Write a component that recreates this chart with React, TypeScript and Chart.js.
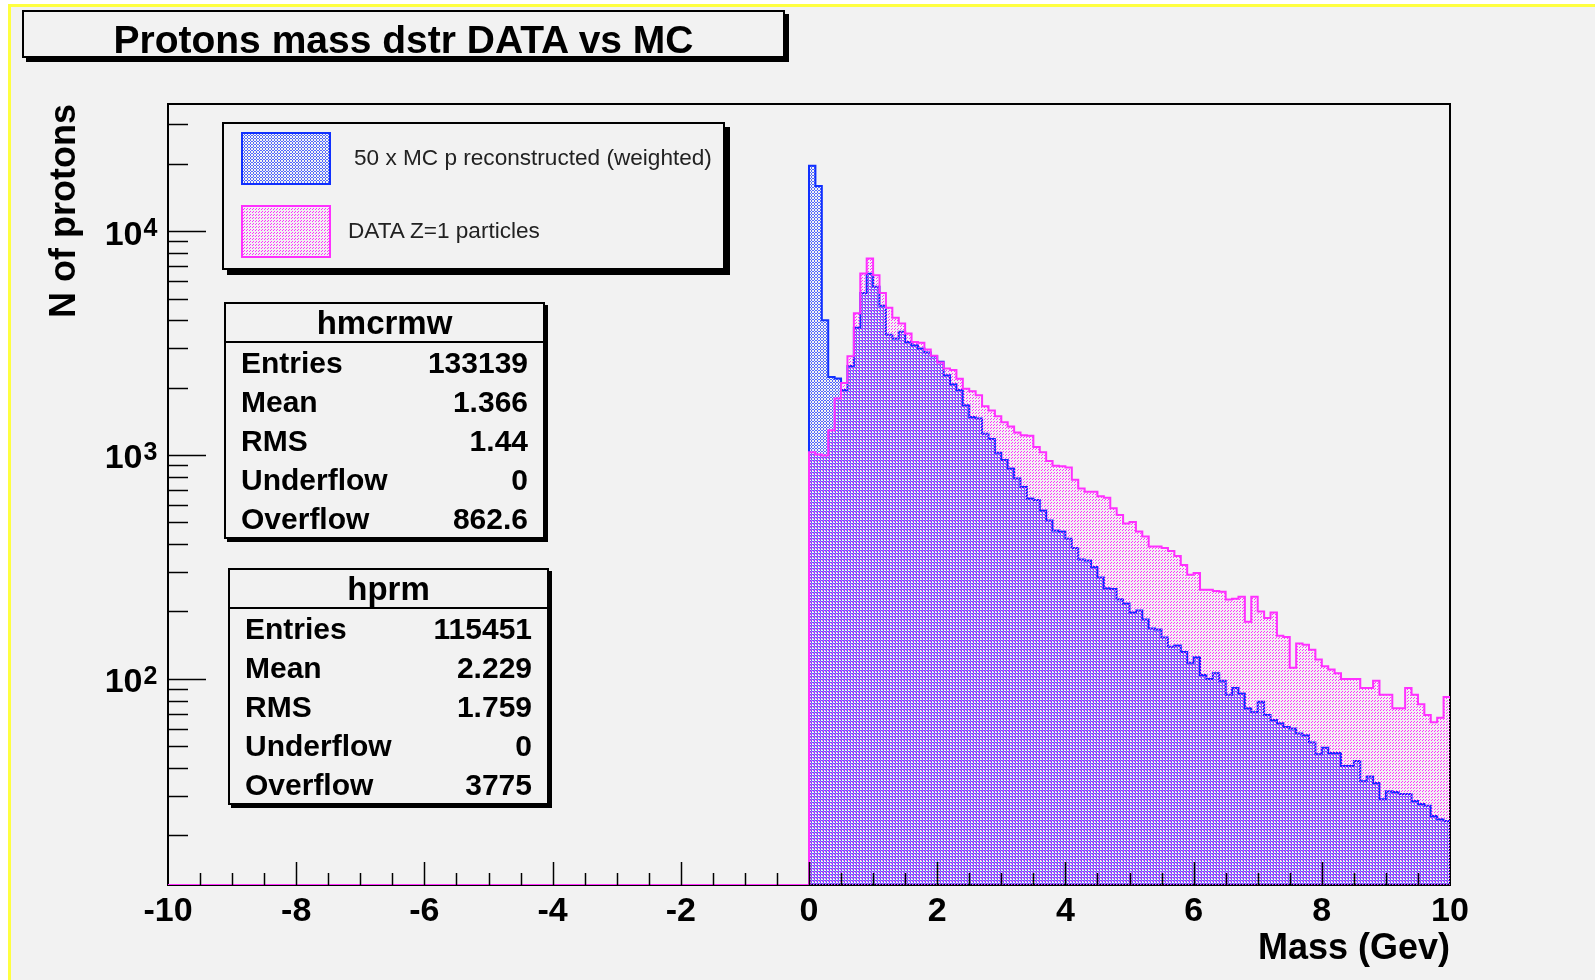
import React, { useEffect, useMemo, useRef } from 'react';
import { Chart, registerables } from 'chart.js';

Chart.register(...registerables);

// ---------------- data ----------------
const X_MIN = -10;
const X_MAX = 10;
const BIN_WIDTH = 0.1;
const FIRST_BIN_EDGE = 0;
const Y_MIN = 12;
const Y_MAX = 37000;
const xMajorStep = 2;
const xMinorStep = 0.5;
const yTickValues = [100, 1000, 10000];
const yTickBase = '10';
const yTickExponents = ['2', '3', '4'];
const chartTitle = 'Protons mass dstr DATA vs MC';
const xAxisTitle = 'Mass (Gev)';
const yAxisTitle = 'N of protons';
const seriesNames = ['50 x MC p reconstructed (weighted)', 'DATA Z=1 particles'];

// MC (blue) counts per 0.1 GeV bin, from 0 to 10
const mcCounts = [
  19600, 15900, 4000, 2230, 2200, 1950, 2500, 3700, 5300, 6450,
  5640, 4650, 3450, 3320, 3550, 3200, 3090, 2990, 2870, 2760,
  2610, 2275, 2070, 1950, 1670, 1480, 1455, 1245, 1180, 1025,
  950, 870, 786, 720, 640, 630, 565, 510, 460, 455,
  423, 384, 341, 338, 316, 284, 254, 252, 227, 217,
  198, 202, 184, 168, 166, 153, 139, 141, 132, 118,
  125, 104, 100, 106, 98, 85, 91, 86, 74, 71,
  79, 69, 65.5, 63.3, 61, 60, 57, 56, 52, 46,
  49.3, 46.6, 46.6, 40.8, 40.8, 43, 34.9, 36.6, 34.3, 29,
  31.5, 31.2, 30.6, 30.6, 28.5, 27.6, 27.1, 24.4, 23.6, 23.2,
];

// DATA (magenta) counts per 0.1 GeV bin, from 0 to 10
const dataCounts = [
  1030, 1005, 995, 1290, 1790, 2100, 2760, 4300, 6470, 7550,
  6360, 5300, 4550, 4100, 3870, 3490, 3200, 3170, 2960, 2780,
  2590, 2435, 2400, 2190, 1980, 1925, 1850, 1650, 1580, 1490,
  1400, 1340, 1260, 1226, 1220, 1087, 1030, 940, 895, 890,
  880, 775, 708, 685, 685, 655, 645, 578, 540, 494,
  502, 455, 433, 390, 390, 384, 373, 354, 323, 292,
  297, 250, 250, 247, 245, 226, 228, 233, 180, 233,
  200, 187, 198, 156, 154, 112, 144, 142, 135, 122,
  114, 110, 106, 100, 100, 100, 91, 91, 98, 85,
  85, 74, 74, 91, 85, 77, 69, 64, 67, 83,
];

const statLabels = ['Entries', 'Mean', 'RMS', 'Underflow', 'Overflow'];
const mcStatName = 'hmcrmw';
const mcStatValues = ['133139', '1.366', '1.44', '0', '862.6'];
const dataStatName = 'hprm';
const dataStatValues = ['115451', '2.229', '1.759', '0', '3775'];

// ---------------- styles ----------------
const FONT = "'Liberation Sans', Arial, Helvetica, sans-serif";
const BLUE = '#1030ff';
const BLUE_DOT = 'rgba(16,48,255,0.7)';
const MAGENTA = '#ff30ff';
const DOT_LIGHT = 'rgba(255,255,255,0.75)';
const BG = '#f2f2f2';
const YELLOW = '#ffff40';
const Y_LABEL_PAD = 25.5;
const Y_LABEL_OFFSET = 4;

function makeTile(w: number, h: number, layers: [string, number[][]][]) {
  const c = document.createElement('canvas');
  c.width = w;
  c.height = h;
  const g = c.getContext('2d')!;
  layers.forEach(([color, cells]) => {
    g.fillStyle = color;
    cells.forEach(([x, y]) => g.fillRect(x, y, 1, 1));
  });
  return c;
}

function histPoints(counts: number[]) {
  const pts: { x: number; y: number }[] = [{ x: X_MIN, y: Y_MIN }];
  counts.forEach((c, i) => pts.push({ x: FIRST_BIN_EDGE + i * BIN_WIDTH, y: Math.max(c, Y_MIN) }));
  pts.push({ x: FIRST_BIN_EDGE + counts.length * BIN_WIDTH, y: Math.max(counts[counts.length - 1], Y_MIN) });
  return pts;
}

const framePlugin = {
  id: 'rootFrame',
  beforeDatasetsDraw(chart: any) {
    const { ctx, chartArea: a } = chart;
    ctx.save();
    ctx.strokeStyle = '#000';
    ctx.lineWidth = 2;
    ctx.strokeRect(a.left, a.top, a.right - a.left, a.bottom - a.top);
    ctx.restore();
  },
  afterDatasetsDraw(chart: any) {
    const { ctx, chartArea: a, scales } = chart;
    const xs = scales.x;
    const ys = scales.y;
    ctx.save();
    ctx.strokeStyle = '#000';
    ctx.lineWidth = 1.5;
    const n = Math.round((X_MAX - X_MIN) / xMinorStep);
    for (let i = 1; i < n; i++) {
      const v = X_MIN + i * xMinorStep;
      const major = Math.abs(v / xMajorStep - Math.round(v / xMajorStep)) < 1e-9;
      const px = Math.round(xs.getPixelForValue(v)) + 0.5;
      ctx.beginPath();
      ctx.moveTo(px, a.bottom);
      ctx.lineTo(px, a.bottom - (major ? 23 : 12));
      ctx.stroke();
    }
    const d0 = Math.floor(Math.log10(Y_MIN));
    const d1 = Math.ceil(Math.log10(Y_MAX));
    for (let d = d0; d <= d1; d++) {
      for (let m = 1; m <= 9; m++) {
        const v = m * Math.pow(10, d);
        if (v <= Y_MIN || v >= Y_MAX) continue;
        const py = Math.round(ys.getPixelForValue(v)) + 0.5;
        ctx.beginPath();
        ctx.moveTo(a.left, py);
        ctx.lineTo(a.left + (m === 1 ? 38 : 20), py);
        ctx.stroke();
      }
    }
    // exponents of the y tick labels (10^n)
    ctx.fillStyle = '#000';
    ctx.font = `bold 25px ${FONT}`;
    ctx.textAlign = 'left';
    ctx.textBaseline = 'alphabetic';
    yTickValues.forEach((v, i) => {
      const py = ys.getPixelForValue(v);
      ctx.fillText(yTickExponents[i], a.left - Y_LABEL_PAD + 1, py + Y_LABEL_OFFSET + 1);
    });
    ctx.restore();
  },
};

function StatsBox({ left, top, name, values }: { left: number; top: number; name: string; values: string[] }) {
  return (
    <div
      style={{
        position: 'absolute', left, top, width: 321, height: 237, boxSizing: 'border-box',
        border: '2px solid #000', background: BG, boxShadow: '3px 3px 0 #000',
        fontWeight: 'bold', color: '#000',
      }}
    >
      <div style={{ height: 37, lineHeight: '37px', textAlign: 'center', fontSize: 33, borderBottom: '2px solid #000' }}>
        {name}
      </div>
      {statLabels.map((l, i) => (
        <div
          key={l}
          style={{ display: 'flex', justifyContent: 'space-between', height: 39, lineHeight: '39px', padding: '0 15px', fontSize: 30 }}
        >
          <span>{l}</span>
          <span>{values[i]}</span>
        </div>
      ))}
    </div>
  );
}

export default function App() {
  const canvasRef = useRef<HTMLCanvasElement | null>(null);
  const tiles = useMemo(
    () => ({
      blue: makeTile(3, 3, [
        [BLUE_DOT, [[1, 0], [0, 1], [2, 1], [1, 2]]],
        [DOT_LIGHT, [[1, 1]]],
      ]),
      pink: makeTile(6, 6, [
        [MAGENTA, [[0, 5], [1, 4], [3, 2], [4, 1], [0, 2], [1, 1], [3, 5], [4, 4]]],
      ]),
    }),
    []
  );

  useEffect(() => {
    document.body.style.margin = '0';
    const canvas = canvasRef.current!;
    const ctx = canvas.getContext('2d')!;
    const bluePattern = ctx.createPattern(tiles.blue, 'repeat');
    const pinkPattern = ctx.createPattern(tiles.pink, 'repeat');
    const tickFont = { family: FONT, size: 34, weight: 'bold' as const };
    const chart = new Chart(canvas, {
      type: 'line',
      data: {
        datasets: [
          {
            label: seriesNames[1], data: histPoints(dataCounts), stepped: true,
            borderColor: MAGENTA, borderWidth: 2, backgroundColor: pinkPattern as any,
            fill: 'start', pointRadius: 0, order: 0,
          },
          {
            label: seriesNames[0], data: histPoints(mcCounts), stepped: true,
            borderColor: BLUE, borderWidth: 2, backgroundColor: bluePattern as any,
            fill: 'start', pointRadius: 0, order: 1,
          },
        ],
      },
      options: {
        animation: false,
        responsive: false,
        maintainAspectRatio: false,
        events: [],
        layout: { padding: { left: 0, top: 104, right: 145, bottom: 0 } },
        plugins: { legend: { display: false }, title: { display: false }, tooltip: { enabled: false } },
        scales: {
          x: {
            type: 'linear', min: X_MIN, max: X_MAX,
            grid: { display: false, drawTicks: false },
            border: { display: false },
            ticks: { stepSize: xMajorStep, font: tickFont, color: '#000', padding: 6, maxRotation: 0, autoSkip: false },
            title: {
              display: true, text: xAxisTitle, align: 'end', color: '#000',
              font: { family: FONT, size: 36, weight: 'bold' }, padding: { top: 9, bottom: 9 },
            },
            afterFit: (s: any) => { s.height = 95; },
          },
          y: {
            type: 'logarithmic', min: Y_MIN, max: Y_MAX,
            grid: { display: false, drawTicks: false },
            border: { display: false },
            afterBuildTicks: (s: any) => { s.ticks = yTickValues.map((v) => ({ value: v })); },
            ticks: {
              callback: () => yTickBase,
              font: tickFont, color: '#000', padding: Y_LABEL_PAD, labelOffset: Y_LABEL_OFFSET, autoSkip: false,
            },
            title: {
              display: true, text: yAxisTitle, align: 'end', color: '#000',
              font: { family: FONT, size: 36, weight: 'bold' }, padding: { top: 43, bottom: 43 },
            },
            afterFit: (s: any) => { s.width = 168; },
          },
        },
      } as any,
      plugins: [framePlugin],
    });
    return () => chart.destroy();
  }, [tiles]);

  const blueUrl = tiles.blue.toDataURL();
  const pinkUrl = tiles.pink.toDataURL();

  return (
    <div style={{ position: 'relative', width: 1595, height: 980, background: '#fff', overflow: 'hidden', fontFamily: FONT }}>
      <div
        style={{
          position: 'absolute', left: 8, top: 4, right: 0, bottom: 0,
          borderLeft: `3px solid ${YELLOW}`, borderTop: `3px solid ${YELLOW}`, background: BG,
        }}
      />
      <canvas ref={canvasRef} width={1595} height={980} style={{ position: 'absolute', left: 0, top: 0 }} />

      {/* title box */}
      <div
        style={{
          position: 'absolute', left: 22, top: 10, width: 763, height: 48, boxSizing: 'border-box',
          border: '2px solid #000', background: BG, boxShadow: '4px 4px 0 #000',
        }}
      >
        <div style={{ position: 'absolute', left: 0, right: 0, top: 8, lineHeight: '40px', textAlign: 'center', fontSize: 39, fontWeight: 'bold', color: '#000' }}>
          {chartTitle}
        </div>
      </div>

      {/* legend */}
      <div
        style={{
          position: 'absolute', left: 222, top: 122, width: 503, height: 148, boxSizing: 'border-box',
          border: '2px solid #000', background: BG, boxShadow: '5px 5px 0 #000',
        }}
      >
        <div style={{ position: 'absolute', left: 17, top: 8, width: 90, height: 53, boxSizing: 'border-box', border: `2px solid ${BLUE}`, backgroundImage: `url(${blueUrl})` }} />
        <div style={{ position: 'absolute', left: 130, top: 19, lineHeight: '30px', fontSize: 22.6, color: '#222', whiteSpace: 'nowrap' }}>{seriesNames[0]}</div>
        <div style={{ position: 'absolute', left: 17, top: 81, width: 90, height: 53, boxSizing: 'border-box', border: `2px solid ${MAGENTA}`, backgroundImage: `url(${pinkUrl})` }} />
        <div style={{ position: 'absolute', left: 124, top: 92, lineHeight: '30px', fontSize: 22.6, color: '#222', whiteSpace: 'nowrap' }}>{seriesNames[1]}</div>
      </div>

      <StatsBox left={224} top={302} name={mcStatName} values={mcStatValues} />
      <StatsBox left={228} top={568} name={dataStatName} values={dataStatValues} />
    </div>
  );
}
